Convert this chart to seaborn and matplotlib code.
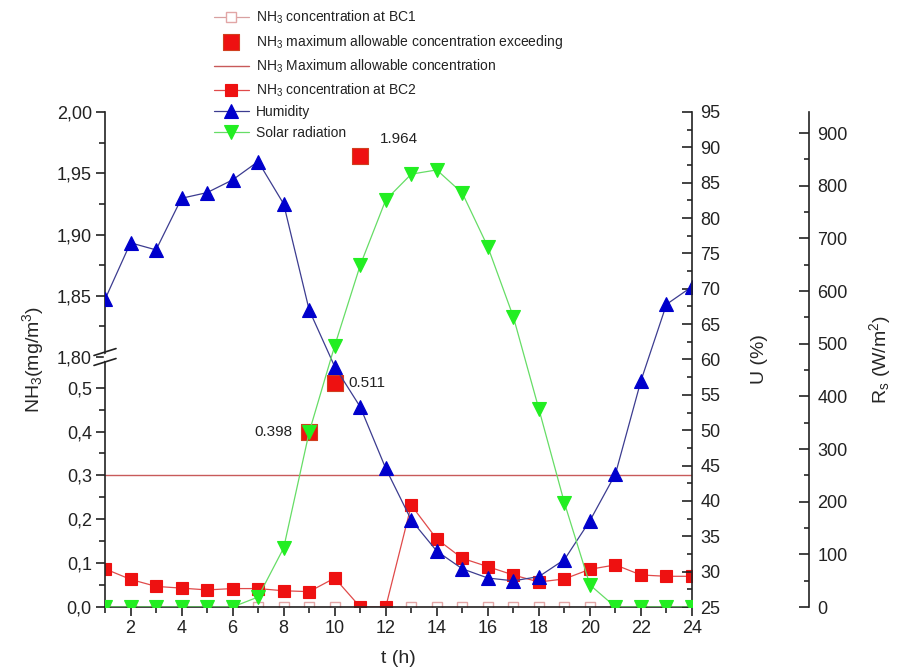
import numpy as np
import pandas as pd
import matplotlib
matplotlib.use("Agg")
import matplotlib.pyplot as plt
import seaborn as sns
from matplotlib.ticker import FixedLocator, FixedFormatter, MultipleLocator

# ---------------- data ----------------
hours = list(range(1, 25))
nh3_bc1 = [0.0] * 24
nh3_bc2 = [0.087, 0.063, 0.047, 0.043, 0.039, 0.042, 0.042, 0.037, 0.035, 0.066,
           0.0, 0.0, 0.232, 0.155, 0.111, 0.092, 0.073, 0.057, 0.064, 0.086,
           0.096, 0.073, 0.070, 0.070]
humidity = [68.5, 76.5, 75.5, 82.8, 83.6, 85.4, 88.0, 82.0, 67.0, 59.0,
            53.3, 44.6, 37.3, 32.9, 30.4, 29.1, 28.7, 29.3, 31.7, 37.2,
            43.8, 57.0, 67.8, 70.3]
solar = [0, 0, 0, 0, 0, 0, 19, 112, 332, 496, 649, 773, 822, 830, 786, 684,
         551, 376, 198, 42, 0, 0, 0, 0]
exceed_hours = [9, 10, 11]
exceed_values = [0.398, 0.511, 1.964]
exceed_labels = ["0.398", "0.511", "1.964"]
max_allowable = 0.3

left_ticks = [0.0, 0.1, 0.2, 0.3, 0.4, 0.5, 1.80, 1.85, 1.90, 1.95, 2.00]
left_ticklabels = ["0,0", "0,1", "0,2", "0,3", "0,4", "0,5",
                   "1,80", "1,85", "1,90", "1,95", "2,00"]
left_minor = [0.05, 0.15, 0.25, 0.35, 0.45, 1.825, 1.875, 1.925, 1.975]
x_ticks = list(range(2, 25, 2))

# ---------------- style ----------------
sns.set_theme(style="white")
plt.rcParams["font.family"] = ["Liberation Sans", "DejaVu Sans"]
plt.rcParams["mathtext.default"] = "regular"
plt.rcParams["axes.linewidth"] = 1.2

fig = plt.figure(figsize=(9, 6.7), dpi=100)
W, H = 900, 670
L, R, T, B = 105, 692, 112, 607
ax = fig.add_axes([L / W, 1 - B / H, (R - L) / W, (B - T) / H])

# broken left axis through a piecewise function scale
BREAK_LO = 0.57
UP_LO = 1.80
K = 2.793


def fwd(v):
    v = np.asarray(v, dtype=float)
    return np.where(v <= BREAK_LO, v, BREAK_LO + np.clip(v - UP_LO, 0, None) * K)


def inv(y):
    y = np.asarray(y, dtype=float)
    return np.where(y <= BREAK_LO, y, UP_LO + (y - BREAK_LO) / K)


ax.set_yscale("function", functions=(fwd, inv))

red = "#ee1111"
ax.axhline(max_allowable, color="#c85a5a", lw=1.0,
           label="NH$_3$ Maximum allowable concentration", zorder=1)
sns.lineplot(x=hours, y=nh3_bc1, ax=ax, color="#d8a0a0", lw=0.9,
             marker="s", markersize=7, markerfacecolor="white",
             markeredgecolor="#e2a6a6", markeredgewidth=1.0,
             errorbar=None, sort=False, label="NH$_3$ concentration at BC1")
sns.lineplot(x=hours, y=nh3_bc2, ax=ax, color="#e04a4a", lw=0.9,
             marker="s", markersize=8, markerfacecolor=red,
             markeredgecolor=red, markeredgewidth=0.8,
             errorbar=None, sort=False, label="NH$_3$ concentration at BC2")
sns.scatterplot(x=exceed_hours, y=exceed_values, ax=ax, marker="s", s=130,
                color=red, edgecolor="#d04020", linewidth=0.8, zorder=3,
                label="NH$_3$ maximum allowable concentration exceeding")

offsets = {"0.398": (-12, 0, "right"), "0.511": (10, 0, "left"),
           "1.964": (14, 12, "left")}
for hx, hv, lab in zip(exceed_hours, exceed_values, exceed_labels):
    dx, dy, ha = offsets[lab]
    ax.annotate(lab, (hx, hv), xytext=(dx, dy), textcoords="offset points",
                ha=ha, va="center", fontsize=11, color="#222222")

ax.set_xlim(1, 24)
ax.set_ylim(0, 2.0)
ax.yaxis.set_major_locator(FixedLocator(left_ticks))
ax.yaxis.set_major_formatter(FixedFormatter(left_ticklabels))
ax.yaxis.set_minor_locator(FixedLocator(left_minor))
ax.xaxis.set_major_locator(FixedLocator(x_ticks))
ax.xaxis.set_minor_locator(MultipleLocator(1))
ax.tick_params(axis="both", which="major", direction="out", length=6.5,
               width=1.2, labelsize=13, colors="#222222", left=True, bottom=True,
               pad=3)
ax.tick_params(axis="both", which="minor", direction="out", length=4,
               width=1.2, left=True, bottom=True)
ax.spines["top"].set_visible(False)
ax.spines["right"].set_visible(False)
for s in ("left", "bottom"):
    ax.spines[s].set_color("#222222")
ax.set_xlabel("t (h)", fontsize=14, labelpad=9)
ax.set_ylabel("NH$_3$(mg/m$^3$)", fontsize=14, labelpad=8)

# break marks on the left spine
yb = BREAK_LO / fwd(2.0)
hb = 6 / (B - T)
wb = 11 / (R - L)
for d in (-hb / 2 - 0.004, hb / 2 + 0.004):
    ax.plot([-wb, wb], [yb + d - 0.007, yb + d + 0.007], transform=ax.transAxes,
            color="#222222", lw=1.2, clip_on=False, zorder=10)
ax.plot([0, 0], [yb - hb / 2 + 0.002, yb + hb / 2 - 0.002], transform=ax.transAxes,
        color="white", lw=2.5, clip_on=False, zorder=9)

# humidity axis
axU = ax.twinx()
sns.lineplot(x=hours, y=humidity, ax=axU, color="#3c3c90", lw=0.9,
             marker="^", markersize=10, markerfacecolor="#0000cc",
             markeredgecolor="#0000cc", markeredgewidth=0.8,
             errorbar=None, sort=False, label="Humidity")
axU.set_ylim(25, 95)
axU.yaxis.set_major_locator(MultipleLocator(5))
axU.yaxis.set_minor_locator(MultipleLocator(2.5))
axU.tick_params(axis="y", which="major", direction="in", length=7, width=1.2,
                labelsize=13, colors="#222222", right=True, pad=6)
axU.tick_params(axis="y", which="minor", direction="in", length=3.5, width=1.2,
                right=True)
for s in ("top", "left", "bottom"):
    axU.spines[s].set_visible(False)
axU.spines["right"].set_color("#222222")
axU.set_ylabel("U (%)", fontsize=14, labelpad=22)

# solar radiation axis
axR = ax.twinx()
axR.spines["right"].set_position(("axes", (809 - L) / (R - L)))
sns.lineplot(x=hours, y=solar, ax=axR, color="#66dd66", lw=0.9,
             marker="v", markersize=10, markerfacecolor="#22ee22",
             markeredgecolor="#22ee22", markeredgewidth=0.8,
             errorbar=None, sort=False, label="Solar radiation")
axR.set_ylim(0, 940)
axR.yaxis.set_major_locator(MultipleLocator(100))
axR.yaxis.set_minor_locator(MultipleLocator(50))
axR.tick_params(axis="y", which="major", direction="in", length=7, width=1.2,
                labelsize=13, colors="#222222", right=True, pad=6)
axR.tick_params(axis="y", which="minor", direction="in", length=3.5, width=1.2,
                right=True)
for s in ("top", "left", "bottom"):
    axR.spines[s].set_visible(False)
axR.spines["right"].set_color("#222222")
axR.set_ylabel("R$_s$ (W/m$^2$)", fontsize=14, labelpad=14)

# legend
handles, labels = [], []
for a in (ax, axU, axR):
    h, l = a.get_legend_handles_labels()
    handles += h
    labels += l
    if a.get_legend() is not None:
        a.get_legend().remove()
order = ["NH$_3$ concentration at BC1",
         "NH$_3$ maximum allowable concentration exceeding",
         "NH$_3$ Maximum allowable concentration",
         "NH$_3$ concentration at BC2",
         "Humidity", "Solar radiation"]
hmap = dict(zip(labels, handles))
leg = fig.legend([hmap[o] for o in order], order, loc="upper left",
                 bbox_to_anchor=(214 / W, 1 - 9 / H), frameon=False,
                 fontsize=10, handlelength=2.5, handletextpad=0.5,
                 labelspacing=0.47, borderaxespad=0, borderpad=0)
for t in leg.get_texts():
    t.set_color("#222222")

fig.savefig("out.png", dpi=100)
